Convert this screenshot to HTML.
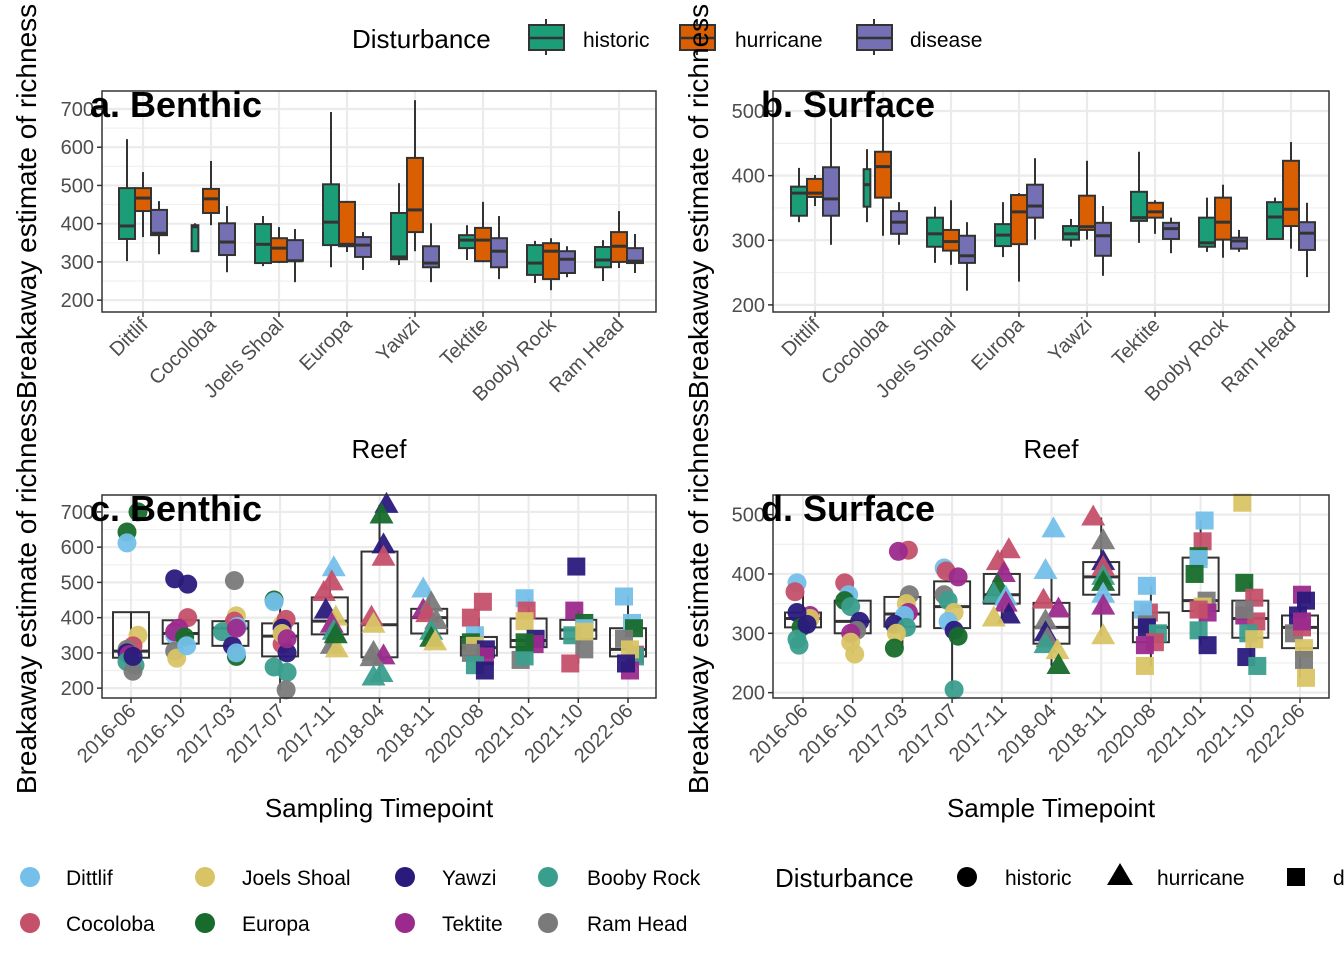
<!DOCTYPE html>
<html><head><meta charset="utf-8">
<style>
html,body{margin:0;padding:0;background:#fff;}
svg{display:block;font-family:"Liberation Sans",Arial,sans-serif;}
</style></head>
<body>
<svg id="chart" width="1344" height="960" viewBox="0 0 1344 960" xmlns="http://www.w3.org/2000/svg">
<g>
<text x="352" y="48" font-size="26" fill="#000">Disturbance</text>
<g><line x1="546" y1="19" x2="546" y2="55" stroke="#333" stroke-width="2"/><rect x="529" y="25" width="35" height="25" fill="#1b9e77" stroke="#333" stroke-width="2"/><line x1="529" y1="38" x2="564" y2="38" stroke="#333" stroke-width="2.5"/><text x="583" y="47" font-size="21">historic</text></g>
<g><line x1="697" y1="19" x2="697" y2="55" stroke="#333" stroke-width="2"/><rect x="680" y="25" width="35" height="25" fill="#d95f02" stroke="#333" stroke-width="2"/><line x1="680" y1="38" x2="715" y2="38" stroke="#333" stroke-width="2.5"/><text x="735" y="47" font-size="21">hurricane</text></g>
<g><line x1="874" y1="19" x2="874" y2="55" stroke="#333" stroke-width="2"/><rect x="857" y="25" width="35" height="25" fill="#7570b3" stroke="#333" stroke-width="2"/><line x1="857" y1="38" x2="892" y2="38" stroke="#333" stroke-width="2.5"/><text x="910" y="47" font-size="21">disease</text></g>
</g>
</svg>
<script>
// ---------- data ----------
const reefs = ["Dittlif","Cocoloba","Joels Shoal","Europa","Yawzi","Tektite","Booby Rock","Ram Head"];
const disturbances = ["historic","hurricane","disease"];
const reefColors = ["#74c0ea","#c5506a","#d9c465","#176b2c","#2a1a7c","#9c2a8c","#3a9e8c","#7a7a7a"];
const distColors = ["#1b9e77","#d95f02","#7570b3"];
// box stats [low whisker, q1, median, q3, high whisker] per reef x disturbance
const benthicHistoric  = [[302,360,394,493,621],[328,328,392,396,401],[289,297,346,399,420],[286,344,404,503,692],[292,307,313,428,506],[305,336,357,370,396],[245,266,297,344,355],[250,286,305,339,357]];
const benthicHurricane = [[365,433,467,493,535],[396,428,465,491,564],[297,300,336,362,391],[326,341,346,457,457],[328,378,436,572,723],[299,302,357,389,457],[226,255,328,349,362],[284,300,341,378,433]];
const benthicDisease   = [[320,370,375,436,459],[273,318,352,401,446],[247,303,303,357,386],[279,313,344,365,378],[247,286,297,341,401],[255,286,328,362,420],[260,271,307,328,341],[271,297,302,336,373]];
const surfaceHistoric  = [[328,338,373,383,412],[328,352,386,410,441],[265,290,310,335,352],[274,291,308,325,359],[290,301,310,322,333],[296,330,335,375,437],[282,290,296,335,366],[302,302,336,359,366]];
const surfaceHurricane = [[353,367,373,395,401],[307,366,414,437,491],[262,284,298,316,362],[236,294,344,370,373],[301,316,321,369,423],[310,335,344,358,362],[273,301,328,366,386],[287,322,348,423,452]];
const surfaceDisease   = [[293,338,364,413,489],[293,310,328,345,359],[222,265,276,307,328],[301,335,353,386,427],[245,276,307,327,353],[280,302,318,327,335],[282,287,299,304,316],[243,285,311,328,358]];
const boxWidthScale = [[1,1,1],[0.42,1,1],[1,1,1],[1,1,1],[1,1,1],[1,1,1],[1,1,1],[1,1,1]];

const timepoints = ["2016-06","2016-10","2017-03","2017-07","2017-11","2018-04","2018-11","2020-08","2021-01","2021-10","2022-06"];
const timeShape = [0,0,0,0,1,1,1,2,2,2,2];
// Benthic points: time index, reef index, value
const cTime  = [0,0,0,0,0,0,0,0,0,0,0,0, 1,1,1,1,1,1,1,1,1,1, 2,2,2,2,2,2,2,2,2, 3,3,3,3,3,3,3,3,3,3,3,3, 4,4,4,4,4,4,4,4,4,4, 5,5,5,5,5,5,5,5,5,5,5, 6,6,6,6,6,6,6,6, 7,7,7,7,7,7,7,7,7,7, 8,8,8,8,8,8,8,8, 9,9,9,9,9,9,9,9, 10,10,10,10,10,10,10,10,10];
const cReef  = [3,3,0,2,1,7,4,5,6,6,7,4, 4,4,1,5,0,5,3,7,2,0, 7,2,1,0,6,4,3,0,5, 3,0,2,1,4,1,4,6,6,7,2,5, 0,1,1,4,2,5,6,7,2,3, 4,3,4,1,1,2,7,5,6,6,7, 0,5,7,1,7,6,3,2, 1,1,0,3,2,4,5,7,6,4, 0,1,2,4,5,7,6,3, 4,5,3,0,6,2,7,1, 0,0,3,7,1,6,5,2,4];
const cValue = [700,643,612,350,320,310,300,295,275,265,248,290, 510,495,400,370,350,360,345,305,285,320, 505,405,390,375,360,320,290,300,370, 450,445,380,395,370,325,300,260,245,195,355,340, 540,500,470,420,400,380,360,320,310,350, 720,690,605,570,400,380,300,290,240,230,285, 480,420,440,410,390,360,340,330, 445,400,350,330,320,310,290,300,265,250, 455,420,390,340,325,280,290,330, 545,420,385,370,350,360,310,270, 460,385,370,340,295,290,250,310,270];
// Surface points
const dTime  = [0,0,0,0,0,0,0,0,0, 1,1,1,1,1,1,1,1,1, 2,2,2,2,2,2,2,2,2,2, 3,3,3,3,3,3,3,3,3,3, 4,4,4,4,4,4,4,4,4, 5,5,5,5,5,5,5,5,5,5, 6,6,6,6,6,6,6,6,6, 7,7,7,7,7,7,7,7,7, 8,8,8,8,8,8,8,8,8,8,8, 9,9,9,9,9,9,9,9,9,9, 10,10,10,10,10,10,10,10,10];
const dReef  = [0,1,5,2,4,3,6,4,6, 1,0,3,6,4,7,5,2,2, 1,5,7,2,5,0,4,6,2,3, 0,1,5,7,6,2,0,4,3,6, 1,1,5,3,6,0,5,4,2, 0,0,1,5,7,4,7,6,2,3, 1,7,4,1,6,3,0,5,2, 0,1,0,7,4,6,1,5,2, 0,1,3,0,3,7,2,5,1,6,4, 2,3,1,5,1,7,6,2,4,6, 5,4,4,7,1,2,7,2,5];
const dValue = [385,370,330,325,335,310,290,315,280, 385,365,355,345,320,305,300,285,265, 440,438,365,350,335,330,315,310,300,275, 410,405,395,365,355,335,320,305,295,205, 440,420,400,380,365,360,350,330,325, 475,405,355,340,320,300,290,280,270,245, 495,455,420,410,395,385,365,345,295, 380,335,340,315,310,300,285,280,245, 490,455,430,425,400,355,345,335,340,305,280, 520,385,360,330,320,340,300,290,260,245, 365,355,330,300,310,275,255,225,320];

// ---------- helpers ----------
const svg = document.getElementById('chart');
const NS = "http://www.w3.org/2000/svg";
function mk(tag, attrs, parent){const e=document.createElementNS(NS,tag);for(const k in attrs)e.setAttribute(k,attrs[k]);(parent||svg).appendChild(e);return e;}

function quantile(sorted,p){const h=(sorted.length-1)*p;const lo=Math.floor(h),hi=Math.ceil(h);return sorted[lo]+(sorted[hi]-sorted[lo])*(h-lo);}

function panel(cfg){
  const g = mk('g',{});
  
  
  const {x0,x1,y0,y1,vmin,vmax,ticks,minors,cats,catX} = cfg;
  const ys = v => y1 - (v - vmin)/(vmax - vmin)*(y1 - y0);
  cfg.ys = ys;
  mk('rect',{x:x0,y:y0,width:x1-x0,height:y1-y0,fill:'#fff'},g);
  minors.forEach(v=>{ if(ys(v)>y0&&ys(v)<y1){const l=mk('line',{x1:x0,x2:x1,y1:ys(v),y2:ys(v),stroke:'#f0f0f0','stroke-width':1.2},g);
     }});
  ticks.forEach(v=>{const l=mk('line',{x1:x0,x2:x1,y1:ys(v),y2:ys(v),stroke:'#ebebeb','stroke-width':2.2},g);
     });
  cats.forEach((c,i)=>{const l=mk('line',{x1:catX(i),x2:catX(i),y1:y0,y2:y1,stroke:'#ebebeb','stroke-width':2.2},g);
     });
  ticks.forEach(v=>{
    mk('line',{x1:x0-5,x2:x0,y1:ys(v),y2:ys(v),stroke:'#333','stroke-width':1.5},g);
    const t=mk('text',{x:x0-8,y:ys(v)+7,'font-size':20,'text-anchor':'end',fill:'#4d4d4d'},g);
    t.textContent=v;
     
  });
  cats.forEach((c,i)=>{
    const x=catX(i);
    mk('line',{x1:x,x2:x,y1:y1,y2:y1+5,stroke:'#333','stroke-width':1.5},g);
    const t=mk('text',{x:x+6,y:y1+14,'font-size':20,'text-anchor':'end',fill:'#4d4d4d',transform:`rotate(-45 ${x+6} ${y1+14})`},g);
    t.textContent=c;
     
  });
  cfg.g=g;
  return cfg;
}
function frame(cfg){
  const r=mk('rect',{x:cfg.x0,y:cfg.y0,width:cfg.x1-cfg.x0,height:cfg.y1-cfg.y0,fill:'none',stroke:'#333','stroke-width':1.5},cfg.g);
   
  const t=mk('text',{x:cfg.x0-12,y:cfg.y0+26,'font-size':36,'font-weight':'bold',fill:'#000'},cfg.g);
  t.textContent=cfg.title;
   
  const yt=mk('text',{x:0,y:0,'font-size':28,'text-anchor':'middle',fill:'#000',transform:`translate(${cfg.ytx} ${(cfg.y0+cfg.y1)/2}) rotate(-90)`},svg);
  yt.textContent='Breakaway estimate of richness';
   
  const xt=mk('text',{x:(cfg.x0+cfg.x1)/2,y:cfg.xty,'font-size':26,'text-anchor':'middle',fill:'#000'},svg);
  xt.textContent=cfg.xtitle;
   
}
function drawBox(g,cx,w,s,ys,fill){
  const bg=mk('g',{},g);
   
  mk('line',{x1:cx,x2:cx,y1:ys(s[0]),y2:ys(s[1]),stroke:'#333','stroke-width':2},bg);
  mk('line',{x1:cx,x2:cx,y1:ys(s[3]),y2:ys(s[4]),stroke:'#333','stroke-width':2},bg);
  mk('rect',{x:cx-w/2,y:ys(s[3]),width:w,height:Math.max(0.5,ys(s[1])-ys(s[3])),fill:fill,stroke:'#333','stroke-width':2},bg);
  mk('line',{x1:cx-w/2,x2:cx+w/2,y1:ys(s[2]),y2:ys(s[2]),stroke:'#333','stroke-width':3},bg);
}
function groupedBoxes(cfg,sets){
  sets.forEach((arr,d)=>{
    arr.forEach((s,i)=>{
      drawBox(cfg.g,cfg.catX(i)+(d-1)*16,16*boxWidthScale[i][d],s,cfg.ys,distColors[d]);
    });
  });
}
function scatterPanel(cfg,tIdx,rIdx,vals){
  timepoints.forEach((tp,t)=>{
    const v=vals.filter((_,k)=>tIdx[k]===t).slice().sort((a,b)=>a-b);
    if(!v.length)return;
    const q1=quantile(v,.25),q3=quantile(v,.75),md=quantile(v,.5),iqr=q3-q1;
    const lo=Math.min(...v.filter(x=>x>=q1-1.5*iqr)),hi=Math.max(...v.filter(x=>x<=q3+1.5*iqr));
    drawBox(cfg.g,cfg.catX(t),36,[lo,q1,md,q3,hi],cfg.ys,'none');
  });
  const jit=[-6,4,-2,7,-8,2,-4,6];
  vals.forEach((v,k)=>{
    const x=cfg.catX(tIdx[k])+jit[(k*3+rIdx[k])%8], y=cfg.ys(v), c=reefColors[rIdx[k]], sh=timeShape[tIdx[k]];
    let e;
    if(sh===0) e=mk('circle',{cx:x,cy:y,r:9.5,fill:c,'fill-opacity':0.95},cfg.g);
    else if(sh===1) e=mk('polygon',{points:`${x},${y-13} ${x-12},${y+8} ${x+12},${y+8}`,fill:c,'fill-opacity':0.95},cfg.g);
    else e=mk('rect',{x:x-9,y:y-9,width:18,height:18,fill:c,'fill-opacity':0.95},cfg.g);
    
    
  });
}

// ---------- panels ----------
const pa = panel({name:'panel-a-benthic',title:'a. Benthic',x0:102,x1:656,y0:91,y1:312,vmin:169,vmax:747,ticks:[200,300,400,500,600,700],minors:[250,350,450,550,650],cats:reefs,catX:i=>143+i*68,ytx:36,xty:458,xtitle:'Reef'});
groupedBoxes(pa,[benthicHistoric,benthicHurricane,benthicDisease]); frame(pa);
const pb = panel({name:'panel-b-surface',title:'b. Surface',x0:773,x1:1329,y0:91,y1:312,vmin:189,vmax:531,ticks:[200,300,400,500],minors:[250,350,450],cats:reefs,catX:i=>815+i*68,ytx:708,xty:458,xtitle:'Reef'});
groupedBoxes(pb,[surfaceHistoric,surfaceHurricane,surfaceDisease]); frame(pb);
const pc = panel({name:'panel-c-benthic',title:'c. Benthic',x0:102,x1:656,y0:495,y1:698,vmin:172,vmax:748,ticks:[200,300,400,500,600,700],minors:[250,350,450,550,650],cats:timepoints,catX:i=>131+i*49.7,ytx:36,xty:817,xtitle:'Sampling Timepoint'});
scatterPanel(pc,cTime,cReef,cValue); frame(pc);
const pd = panel({name:'panel-d-surface',title:'d. Surface',x0:773,x1:1329,y0:495,y1:698,vmin:191,vmax:533,ticks:[200,300,400,500],minors:[250,350,450],cats:timepoints,catX:i=>803+i*49.7,ytx:708,xty:817,xtitle:'Sample Timepoint'});
scatterPanel(pd,dTime,dReef,dValue); frame(pd);

// ---------- bottom legends ----------
const lg=mk('g',{});
 
const lx=[30,205,405,548], ltx=[66,242,442,587];
reefs.forEach((r,i)=>{
  const col=Math.floor(i/2), row=i%2, y=row?923:877;
  const e=mk('g',{},lg);
  
  
  mk('circle',{cx:lx[col],cy:y,r:10,fill:reefColors[i]},e);
  const t=mk('text',{x:ltx[col],y:y+8,'font-size':21},e); t.textContent=r;
});
const sg=mk('g',{});
 
const st=mk('text',{x:775,y:887,'font-size':26},sg); st.textContent='Disturbance';
const se1=mk('g',{},sg);
 
mk('circle',{cx:967,cy:877,r:10,fill:'#000'},se1);
let t1=mk('text',{x:1005,y:885,'font-size':21},se1); t1.textContent='historic';
const se2=mk('g',{},sg);
 
mk('polygon',{points:'1120,863 1107,885 1133,885',fill:'#000'},se2);
let t2=mk('text',{x:1157,y:885,'font-size':21},se2); t2.textContent='hurricane';
const se3=mk('g',{},sg);
 
mk('rect',{x:1287,y:868,width:18,height:18,fill:'#000'},se3);
let t3=mk('text',{x:1333,y:885,'font-size':21},se3); t3.textContent='disease';
</script>
</body></html>
